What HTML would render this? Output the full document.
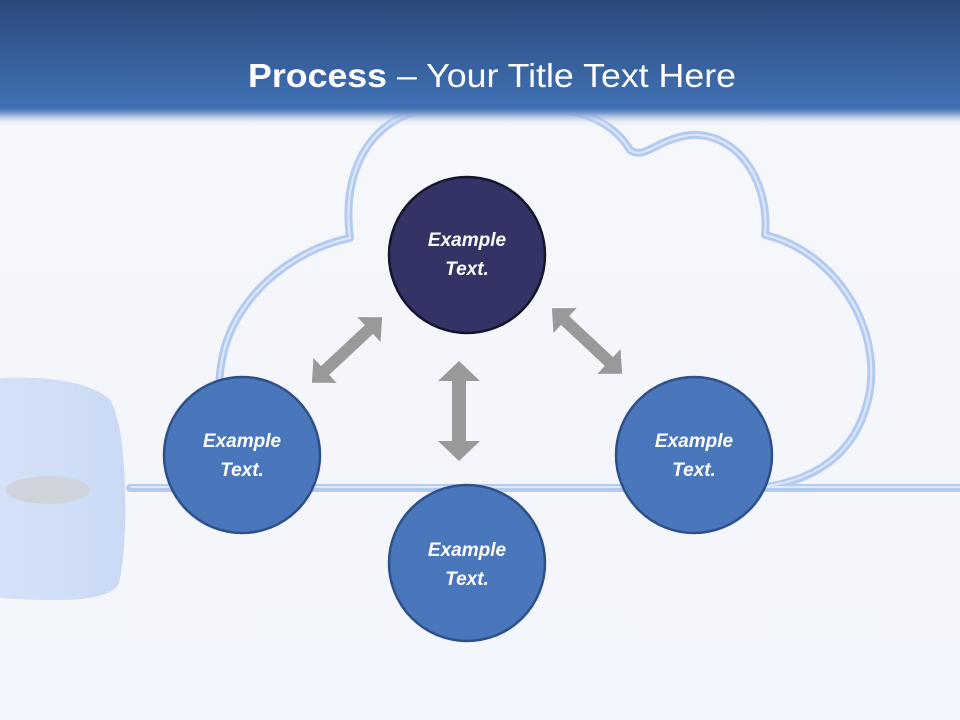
<!DOCTYPE html>
<html><head><style>
body{margin:0;width:960px;height:720px;overflow:hidden;background:#f4f6fb;font-family:"Liberation Sans",sans-serif}
</style></head><body>
<svg width="960" height="720" viewBox="0 0 960 720" xmlns="http://www.w3.org/2000/svg" style="position:absolute;left:0;top:0">
<defs>
<linearGradient id="hd" x1="0" y1="0" x2="0" y2="1">
<stop offset="0" stop-color="#2a4a7b"/><stop offset="0.86" stop-color="#4171b5"/><stop offset="0.9" stop-color="#7d9ccc"/><stop offset="1" stop-color="#f4f6fb" stop-opacity="0"/>
</linearGradient>
<linearGradient id="bg" x1="0" y1="0" x2="0" y2="1"><stop offset="0" stop-color="#f6f7fa"/><stop offset="1" stop-color="#f3f6fc"/></linearGradient>
<linearGradient id="ms" x1="0" y1="0" x2="1" y2="0"><stop offset="0" stop-color="#cddcf6"/><stop offset="1" stop-color="#c0d3f3"/></linearGradient>
</defs>
<rect width="960" height="720" fill="url(#bg)"/>
<!-- cloud -->
<g fill="none" stroke="#b3cbf1" stroke-width="8" stroke-linejoin="round" stroke-linecap="round">
<path d="M320 488 C240 488 210 420 222 360 C232 300 290 250 350 238 C340 160 380 110 440 108 C530 104 600 100 630 150 C645 160 655 140 690 135 C740 132 770 185 765 235 C830 250 880 320 870 390 C860 450 820 480 760 488"/>
<path d="M130 488 L960 488"/>
</g>
<g fill="none" stroke="#dfe9fb" stroke-width="2" stroke-linejoin="round">
<path d="M320 487 C240 487 210 420 222 360 C232 300 290 250 350 238 C340 160 380 110 440 108 C530 104 600 100 630 150 C645 160 655 140 690 135 C740 132 770 185 765 235 C830 250 880 320 870 390 C860 450 820 480 760 487"/>
<path d="M130 487 L960 487"/>
</g>
<!-- mouse -->
<path d="M0 378 C40 376 90 380 110 400 C130 430 128 560 118 585 C105 605 40 600 0 598 Z" fill="url(#ms)" opacity="0.8"/>
<ellipse cx="48" cy="490" rx="42" ry="14" fill="#cfd4dc"/>
<rect width="960" height="126" fill="url(#hd)"/>
<text x="492" y="87" text-anchor="middle" fill="#fff" font-size="33" font-family="Liberation Sans,sans-serif" textLength="488" lengthAdjust="spacingAndGlyphs"><tspan font-weight="bold">Process</tspan> – Your Title Text Here</text>
<!-- arrows -->
<g fill="#999">
<g transform="translate(347,350) rotate(-43)"><polygon points="-48,0 -30,-17 -30,-6 30,-6 30,-17 48,0 30,17 30,6 -30,6 -30,17"/></g>
<g transform="translate(459,411) rotate(90)"><polygon points="-50,0 -30,-21 -30,-7 30,-7 30,-21 50,0 30,21 30,7 -30,7 -30,21"/></g>
<g transform="translate(587,341) rotate(43)"><polygon points="-48,0 -30,-17 -30,-6 30,-6 30,-17 48,0 30,17 30,6 -30,6 -30,17"/></g>
</g>
<g stroke-width="2.5" font-family="Liberation Sans,sans-serif" font-size="19" font-weight="bold" font-style="italic" fill="#fff" text-anchor="middle">
<circle cx="467" cy="255" r="78" fill="#343366" stroke="#15142c"/>
<circle cx="242" cy="455" r="78" fill="#4a76bb" stroke="#2d5089"/>
<circle cx="467" cy="563" r="78" fill="#4a76bb" stroke="#2d5089"/>
<circle cx="694" cy="455" r="78" fill="#4a76bb" stroke="#2d5089"/>
<text stroke="none" x="467" y="246">Example</text><text stroke="none" x="467" y="275">Text.</text>
<text stroke="none" x="242" y="447">Example</text><text stroke="none" x="242" y="476">Text.</text>
<text stroke="none" x="467" y="556">Example</text><text stroke="none" x="467" y="585">Text.</text>
<text stroke="none" x="694" y="447">Example</text><text stroke="none" x="694" y="476">Text.</text>
</g>
</svg>
</body></html>
